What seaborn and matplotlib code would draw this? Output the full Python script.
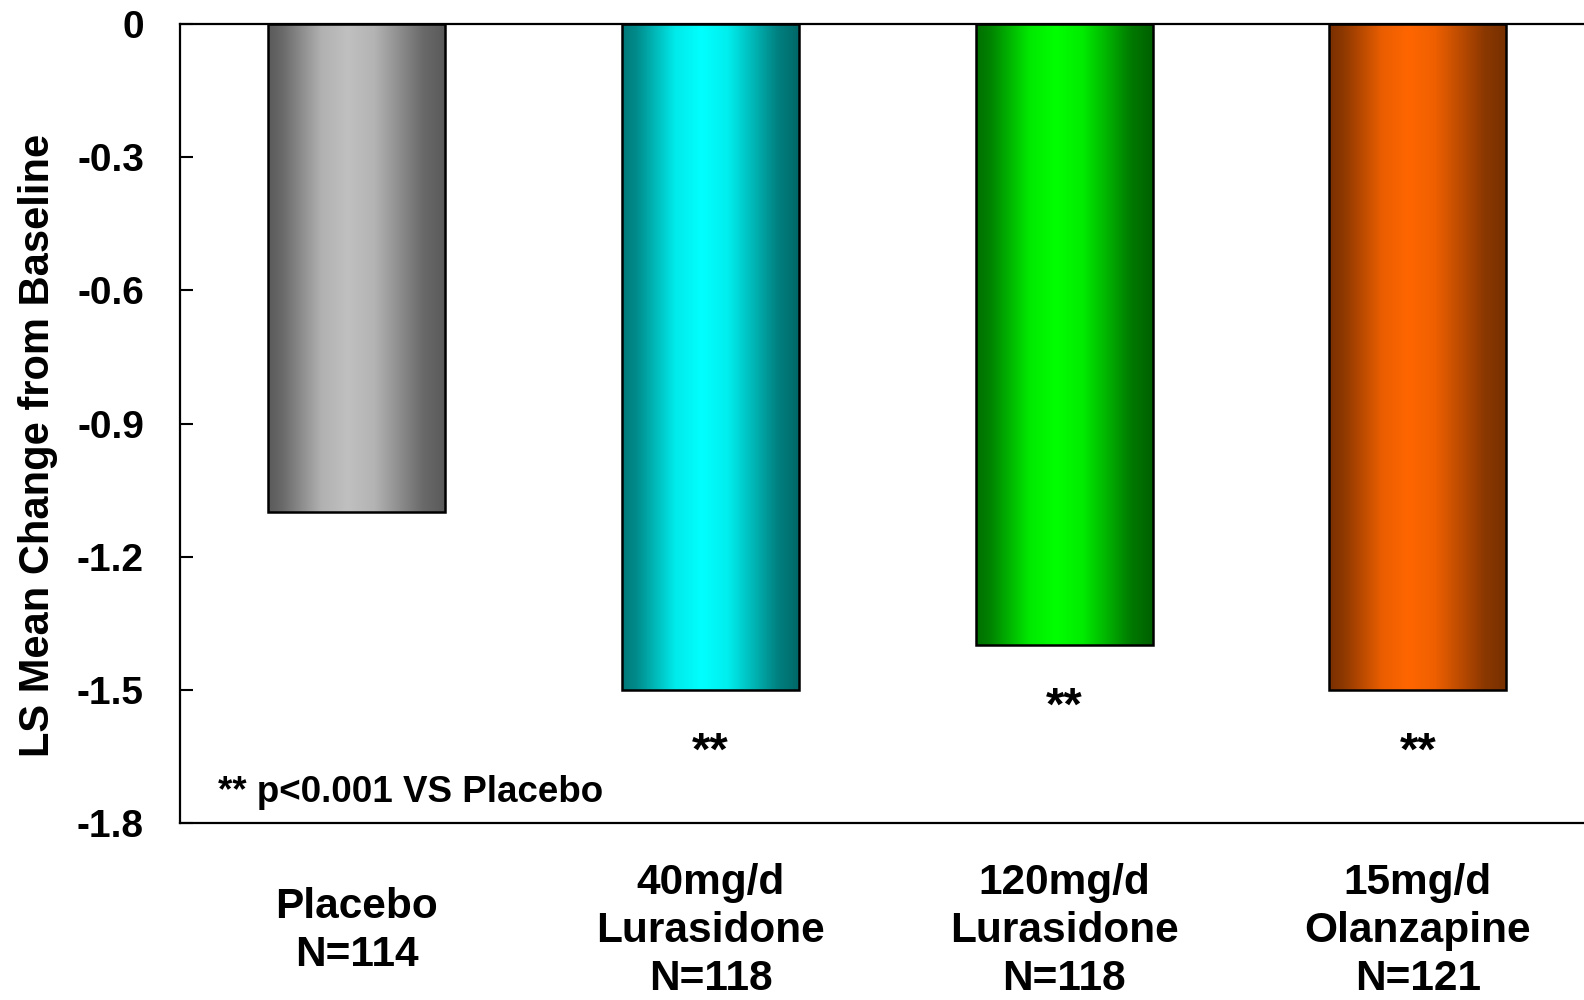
import numpy as np
import pandas as pd
import matplotlib
matplotlib.use('Agg')
import matplotlib.pyplot as plt
import seaborn as sns
from matplotlib.colors import to_rgb

# ---- data ----
categories = ['Placebo\nN=114', '40mg/d\nLurasidone\nN=118',
              '120mg/d\nLurasidone\nN=118', '15mg/d\nOlanzapine\nN=121']
values = [-1.1, -1.5, -1.4, -1.5]
significance = ['', '**', '**', '**']
y_ticks = [0, -0.3, -0.6, -0.9, -1.2, -1.5, -1.8]
y_tick_labels = ['0', '-0.3', '-0.6', '-0.9', '-1.2', '-1.5', '-1.8']
footnote = '** p<0.001 VS Placebo'
y_label = 'LS Mean Change from Baseline'

# ---- style ----
dark_left = ['#5a5a5a', '#007878', '#006e00', '#7a3000']
bright = ['#c0c0c0', '#00ffff', '#00ff00', '#ff6600']
dark_right = ['#5a5a5a', '#006868', '#006000', '#763000']

sns.set_theme(style='white')
plt.rcParams['font.family'] = ['Liberation Sans', 'DejaVu Sans']
plt.rcParams['font.weight'] = 'bold'

fig = plt.figure(figsize=(15.84, 10), dpi=100)
ax = fig.add_axes([180 / 1584, 177 / 1000, 1404 / 1584, 799 / 1000])

df = pd.DataFrame({'group': categories, 'value': values})
sns.barplot(data=df, x='group', y='value', hue='group', palette=bright,
            legend=False, width=0.5, edgecolor='black', linewidth=1.8,
            saturation=1, ax=ax)

# gradient fills clipped to each bar
t = np.linspace(0, 1, 256)
wgt = np.interp(t, [0, 0.08, 0.3, 0.45, 0.6, 0.88, 1],
                [0, 0.15, 0.85, 1, 0.88, 0.15, 0])
for i, patch in enumerate(ax.patches):
    x0, wd = patch.get_x(), patch.get_width()
    y0, h = patch.get_y(), patch.get_height()
    dl, dr, br = (np.array(to_rgb(c)) for c in (dark_left[i], dark_right[i], bright[i]))
    dark = dl * (1 - t)[:, None] + dr * t[:, None]
    img = dark * (1 - wgt)[:, None] + br * wgt[:, None]
    im = ax.imshow(img[None, :, :], extent=[x0, x0 + wd, y0 + h, y0],
                   aspect='auto', interpolation='bilinear',
                   zorder=patch.get_zorder() - 0.1)
    im.set_clip_path(patch)
    patch.set_facecolor('none')

ax.set_xlim(-0.5, 3.47)
ax.set_ylim(-1.8, 0)

ax.set_yticks(y_ticks)
ax.set_yticklabels(y_tick_labels)
ax.tick_params(axis='y', direction='in', length=9.5, width=1.5, pad=26,
               labelsize=28, colors='black', left=True)
ax.tick_params(axis='x', length=0, pad=78, labelsize=30.5, colors='black')
for lbl in ax.get_xticklabels():
    lbl.set_va('center')
    lbl.set_linespacing(1.26)
    lbl.set_fontweight('bold')
for lbl in ax.get_yticklabels():
    lbl.set_fontweight('bold')

for side in ['top', 'left', 'bottom']:
    ax.spines[side].set_visible(True)
    ax.spines[side].set_color('black')
    ax.spines[side].set_linewidth(1.6)
ax.spines['right'].set_visible(False)

ax.set_xlabel('')
ax.set_ylabel(y_label, fontsize=30, fontweight='bold', color='black')
ax.yaxis.set_label_coords(-0.101, 0.473)
ax.yaxis.label.set_va('center')

for i, (v, s) in enumerate(zip(values, significance)):
    if s:
        ax.text(i, v - 0.168, s, ha='center', va='baseline', fontsize=34,
                fontweight='bold', color='black')

ax.text(-0.393, -1.732, footnote, ha='left', va='center', fontsize=26.5,
        fontweight='bold', color='black')

fig.savefig('out.png', dpi=100)
